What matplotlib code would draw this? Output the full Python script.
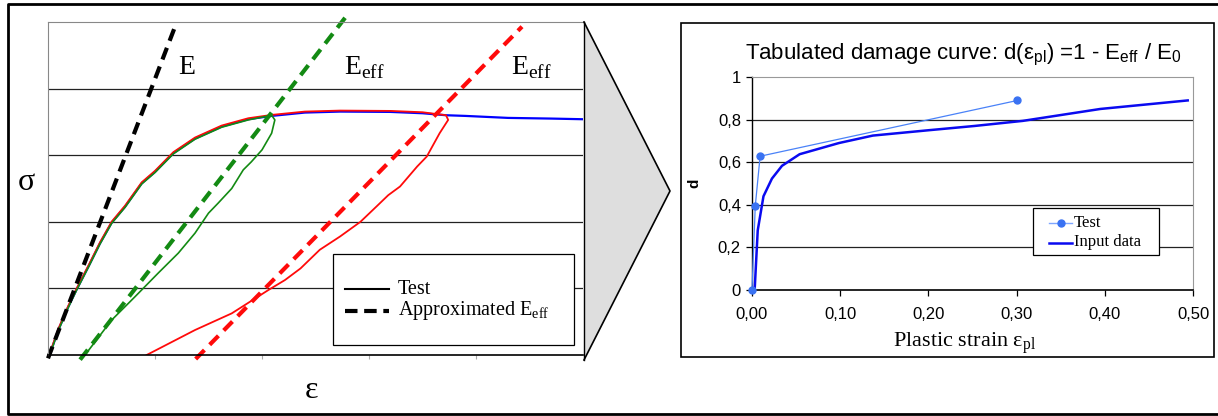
import numpy as np
import matplotlib
matplotlib.use('Agg')
import matplotlib.pyplot as plt
from matplotlib.patches import Polygon, Rectangle

plt.rcParams['font.family'] = ['Liberation Serif', 'DejaVu Serif']
plt.rcParams['mathtext.fontset'] = 'custom'
plt.rcParams['mathtext.rm'] = 'Liberation Serif'
plt.rcParams['mathtext.sf'] = 'Liberation Sans'

W, H = 1218, 416

# left panel: stress-strain test (arbitrary units)
load_eps = [0.0, 0.019, 0.096, 0.19, 0.268, 0.377, 0.486, 0.595, 0.72, 0.876, 1.0, 1.171,
            1.374, 1.623, 1.872, 2.09, 2.215, 2.40, 2.73, 3.20, 3.50, 3.72, 3.90, 4.30, 4.70, 5.0]
load_sig = [0.0, 0.02, 0.375, 0.725, 0.986, 1.326, 1.677, 1.987, 2.227, 2.578, 2.75, 3.03,
            3.25, 3.43, 3.54, 3.59, 3.61, 3.64, 3.655, 3.65, 3.63, 3.60, 3.59, 3.56, 3.55, 3.54]

green_unl_eps = [2.09, 2.12, 2.09, 2.0, 1.90, 1.825, 1.717, 1.59, 1.50, 1.374, 1.218, 1.03,
                 0.813, 0.595, 0.346]
green_unl_sig = [3.60, 3.53, 3.33, 3.08, 2.90, 2.78, 2.50, 2.28, 2.13, 1.83, 1.53, 1.23,
                 0.875, 0.525, 0.0]

red_unl_eps = [3.72, 3.74, 3.66, 3.54, 3.45, 3.29, 3.18, 3.07, 2.92, 2.73, 2.54, 2.36, 2.215,
               2.06, 1.717, 1.374, 0.922]
red_unl_sig = [3.60, 3.53, 3.33, 2.98, 2.83, 2.53, 2.40, 2.23, 2.00, 1.78, 1.58, 1.30, 1.126,
               0.976, 0.625, 0.375, 0.0]

# approximated moduli (dashed), endpoints
E_line = ([0.0, 1.18], [-0.05, 4.9])
Eg_line = ([0.30, 2.78], [-0.07, 5.07])
Er_line = ([1.38, 4.43], [-0.06, 4.93])

# right panel: damage curve
test_epl = [0.0, 0.0037, 0.0092, 0.301]
test_d = [0.0, 0.394, 0.628, 0.89]
input_epl = [0.003, 0.0065, 0.013, 0.0226, 0.034, 0.054, 0.0986, 0.137, 0.20, 0.252, 0.307, 0.395, 0.494]
input_d = [0.0, 0.28, 0.44, 0.523, 0.583, 0.6375, 0.69, 0.725, 0.75, 0.77, 0.794, 0.85, 0.89]

xticks_r = [0.0, 0.1, 0.2, 0.3, 0.4, 0.5]
xlabels_r = ['0,00', '0,10', '0,20', '0,30', '0,40', '0,50']
yticks_r = [0, 0.2, 0.4, 0.6, 0.8, 1.0]
ylabels_r = ['0', '0,2', '0,4', '0,6', '0,8', '1']

GREEN = '#138a13'
RED = '#ff0a0a'
BLUE = '#0a0af0'
LBLUE = '#4a82f8'

fig = plt.figure(figsize=(W / 100, H / 100), dpi=100)

def px_axes(x0, y0, x1, y1):
    return fig.add_axes([x0 / W, 1 - y1 / H, (x1 - x0) / W, (y1 - y0) / H])

# ---- left plot
ax = px_axes(48, 22, 583, 355)
le = np.array(load_eps)
ls = np.array(load_sig)
ax.plot(le, ls, color='#0000ff', lw=1.6)
m = le < 3.72
ax.plot(np.r_[le[m], red_unl_eps], np.r_[ls[m] + 0.015, red_unl_sig], color=RED, lw=1.3)
m = le < 2.09
ax.plot(np.r_[le[m], green_unl_eps], np.r_[ls[m] - 0.01, green_unl_sig], color=GREEN, lw=1.2)
dash = (3.0, 1.8)
ax.plot(*E_line, color='black', lw=3, ls=(0, dash), clip_on=False)
ax.plot(*Eg_line, color=GREEN, lw=3, ls=(0, dash), clip_on=False)
ax.plot(*Er_line, color=RED, lw=3, ls=(0, dash), clip_on=False)

ax.set_xlim(0, 5)
ax.set_ylim(0, 5)
for g in [1, 2, 3, 4]:
    ax.axhline(g, color='#222222', lw=0.9, zorder=0)
ax.set_xticks([1, 2, 3, 4])
ax.set_xticklabels([])
ax.set_yticks([])
ax.tick_params(axis='x', length=3, color='#aaaaaa', direction='out')
for s in ['top', 'left']:
    ax.spines[s].set_color('#888888')
    ax.spines[s].set_linewidth(0.8)
ax.spines['right'].set_visible(False)
ax.spines['bottom'].set_linewidth(1.2)

ax.text(1.30, 4.32, 'E', fontsize=20, ha='center', va='center')
ax.text(2.96, 4.32, 'E$_{\\rm eff}$', fontsize=20, ha='center', va='center')
ax.text(4.515, 4.32, 'E$_{\\rm eff}$', fontsize=20, ha='center', va='center')

# ---- right plot
ax2 = px_axes(752, 77, 1193, 290)
ax2.plot(input_epl, input_d, color=BLUE, lw=1.8, zorder=3)
ax2.plot(test_epl, test_d, color=LBLUE, lw=0.9, marker='o', ms=5, mfc='#3a72f2', mec='#3a72f2',
         zorder=4, clip_on=False)
ax2.set_xlim(0, 0.5)
ax2.set_ylim(0, 1)
for g in [0.2, 0.4, 0.6, 0.8]:
    ax2.axhline(g, color='#222222', lw=0.9, zorder=0)
ax2.set_xticks(xticks_r)
ax2.set_xticklabels(xlabels_r, family='Liberation Sans', fontsize=12)
ax2.set_yticks(yticks_r)
ax2.set_yticklabels(ylabels_r, family='Liberation Sans', fontsize=12)
ax2.tick_params(axis='x', length=4, width=0.9, pad=8)
ax2.tick_params(axis='y', length=4, width=0.9, pad=4)
ax2.spines['top'].set_color('#999999')
ax2.spines['right'].set_color('#999999')
ax2.spines['left'].set_linewidth(1)
ax2.spines['bottom'].set_linewidth(1.2)

# ---- overlay: frames, arrow, labels, legends
ov = fig.add_axes([0, 0, 1, 1], zorder=10)
ov.set_xlim(0, W)
ov.set_ylim(H, 0)
ov.axis('off')
ov.patch.set_alpha(0)
ov.plot([1230, 8, 8, 1230], [4, 4, 414, 414], color='black', lw=2, clip_on=False)
ov.add_patch(Rectangle((681, 23), 533, 334, fill=False, edgecolor='black', lw=1.2))
ov.add_patch(Polygon([(584, 22), (670, 191), (584, 360)], closed=True, facecolor='#dedede',
                     edgecolor='none'))
ov.plot([584, 584], [22, 360], color='black', lw=1)
ov.plot([584, 670, 584], [22, 191, 360], color='black', lw=1.2)
ov.text(26, 183, 'σ', fontsize=23, ha='center', va='center')
ov.text(312, 390, 'ε', fontsize=23, ha='center', va='center')
ov.text(963, 55, 'Tabulated damage curve: d(ε$_{\\mathsf{pl}}$) =1 - E$_{\\mathsf{eff}}$ / E$_{\\mathsf{0}}$',
        family='Liberation Sans', fontsize=16, ha='center', va='center')
ov.text(694, 183, 'd', family='Liberation Sans', fontweight='bold', fontsize=11, rotation=90,
        ha='center', va='center')
ov.text(965, 347, 'Plastic strain ε$_{\\rm pl}$', fontsize=16, ha='center', va='baseline')

# left legend
ov.add_patch(Rectangle((333, 254), 241, 91, facecolor='white', edgecolor='black', lw=0.9))
ov.plot([345, 389], [289, 289], color='black', lw=1.5)
ov.plot([345, 389], [311, 311], color='black', lw=3, ls=(0, (3.0, 1.6)))
ov.text(398, 289, 'Test', fontsize=14.5, va='center')
ov.text(398, 311, 'Approximated E$_{\\rm eff}$', fontsize=14.5, va='center')

# right legend
ov.add_patch(Rectangle((1033, 208), 126, 47, facecolor='white', edgecolor='black', lw=0.9))
ov.plot([1049, 1072], [223, 223], color='#7ea6ff', lw=1)
ov.plot([1060.5], [223], marker='o', ms=5, color='#3a72f2')
ov.plot([1049, 1072], [243, 243], color=BLUE, lw=1.8)
ov.text(1074, 223, 'Test', fontsize=12, va='center')
ov.text(1074, 242, 'Input data', fontsize=12, va='center')

fig.savefig('out.png', dpi=100)
